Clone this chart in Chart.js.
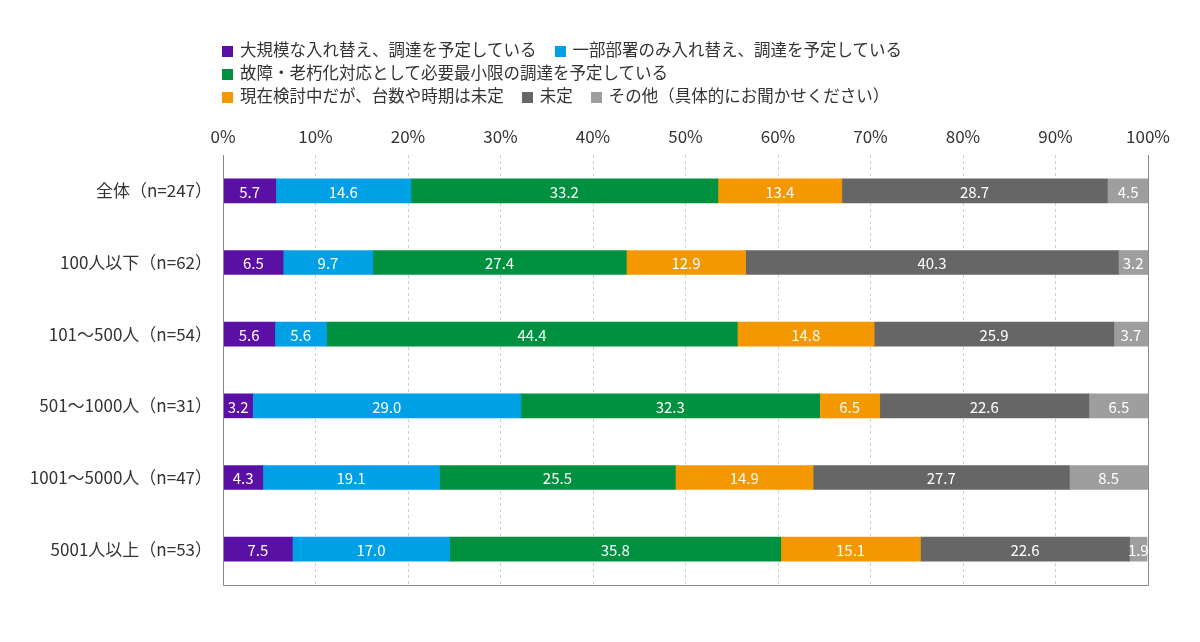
<!DOCTYPE html>
<html>
<head>
<meta charset="utf-8">
<script src="https://cdn.jsdelivr.net/npm/chart.js@4/dist/chart.umd.min.js"></script>
<style>
  body { margin: 0; background: #fff; font-family: "Noto Sans CJK JP", sans-serif; }
  #wrap { position: relative; width: 1200px; height: 642px; }
  #legend { position: absolute; left: 222px; top: 38px; font-size: 16.5px; color: #333; line-height: 23px; }
  #legend .row { white-space: nowrap; }
  #legend .item { display: inline-block; margin-right: 18px; }
  #legend .box { display: inline-block; width: 11px; height: 11px; margin-right: 7px; vertical-align: -1px; }
  canvas { position: absolute; left: 0; top: 0; }
</style>
</head>
<body>
<div id="wrap">
  <canvas id="bar-chart" width="1200" height="642"></canvas>
  <div id="legend"></div>
</div>
<script>
// categories and series
let groups = ['全体（n=247）', '100人以下（n=62）', '101～500人（n=54）', '501～1000人（n=31）', '1001～5000人（n=47）', '5001人以上（n=53）'];
let seriesNames = [
  '大規模な入れ替え、調達を予定している',
  '一部部署のみ入れ替え、調達を予定している',
  '故障・老朽化対応として必要最小限の調達を予定している',
  '現在検討中だが、台数や時期は未定',
  '未定',
  'その他（具体的にお聞かせください）'
];
let largeScale = [5.7, 6.5, 5.6, 3.2, 4.3, 7.5];
let partial = [14.6, 9.7, 5.6, 29.0, 19.1, 17.0];
let minimum = [33.2, 27.4, 44.4, 32.3, 25.5, 35.8];
let considering = [13.4, 12.9, 14.8, 6.5, 14.9, 15.1];
let undecided = [28.7, 40.3, 25.9, 22.6, 27.7, 22.6];
let other = [4.5, 3.2, 3.7, 6.5, 8.5, 1.9];
let tickLabels = ['0%', '10%', '20%', '30%', '40%', '50%', '60%', '70%', '80%', '90%', '100%'];

let barColors = ['#5a0fa5', '#00a0e6', '#009140', '#f39800', '#666666', '#9e9e9e'];
let allValues = [largeScale, partial, minimum, considering, undecided, other];

// legend rows like the original layout
let legendRows = [[0, 1], [2], [3, 4, 5]];
let legendBox = document.querySelector('#legend');
legendRows.forEach(function(row){
  let div = document.createElement('div');
  div.className = 'row';
  row.forEach(function(i){
    let span = document.createElement('span');
    span.className = 'item';
    span.innerHTML = '<span class="box" style="background:' + barColors[i] + '"></span>' + seriesNames[i];
    div.appendChild(span);
  });
  legendBox.appendChild(div);
});

// labels in the middle of each segment
let segmentLabels = {
  id: 'segmentLabels',
  afterDatasetsDraw(chart) {
    let ctx = chart.ctx;
    ctx.save();
    ctx.fillStyle = '#fff';
    ctx.font = '15px "Noto Sans CJK JP", sans-serif';
    ctx.textAlign = 'center';
    ctx.textBaseline = 'middle';
    chart.data.datasets.forEach(function(ds, di){
      chart.getDatasetMeta(di).data.forEach(function(bar, i){
        let mid = (bar.x + bar.base) / 2;
        ctx.fillText(ds.data[i].toFixed(1), mid, bar.y + 1);
      });
    });
    ctx.restore();
  }
};

// left/right/bottom frame
let frame = {
  id: 'frame',
  afterDraw(chart) {
    let a = chart.chartArea;
    let ctx = chart.ctx;
    ctx.save();
    ctx.strokeStyle = '#888';
    ctx.lineWidth = 1;
    ctx.beginPath();
    ctx.moveTo(a.left + 0.5, a.top);
    ctx.lineTo(a.left + 0.5, a.bottom + 0.5);
    ctx.lineTo(a.right + 0.5, a.bottom + 0.5);
    ctx.lineTo(a.right + 0.5, a.top);
    ctx.stroke();
    ctx.restore();
  }
};

let contex = document.querySelector('#bar-chart').getContext('2d');
let chart = new Chart(contex, {
  type: 'bar',
  data: {
    labels: groups,
    datasets: allValues.map(function(vals, i){
      return { label: seriesNames[i], data: vals, backgroundColor: barColors[i], barThickness: 24, borderWidth: 0 };
    })
  },
  options: {
    indexAxis: 'y',
    responsive: false,
    animation: false,
    layout: { padding: { left: 0, right: 52, top: 120, bottom: 57 } },
    plugins: { legend: { display: false }, tooltip: { enabled: false } },
    scales: {
      x: {
        position: 'top',
        stacked: true,
        min: 0,
        max: 100,
        afterFit: function(s){ s.height = 35; },
        border: { display: false, dash: [3, 3] },
        grid: { color: '#d0d0d0', drawTicks: false, tickLength: 0 },
        ticks: {
          stepSize: 10,
          padding: 8,
          color: '#333',
          font: { size: 17, family: '"Noto Sans CJK JP", sans-serif' },
          callback: function(v){ return tickLabels[Math.round(v / 10)]; }
        }
      },
      y: {
        stacked: true,
        afterFit: function(s){ s.width = 223; },
        border: { display: false },
        grid: { display: false },
        ticks: {
          padding: 3,
          color: '#333',
          font: { size: 17, family: '"Noto Sans CJK JP", sans-serif' }
        }
      }
    }
  },
  plugins: [segmentLabels, frame]
});
</script>
</body>
</html>
